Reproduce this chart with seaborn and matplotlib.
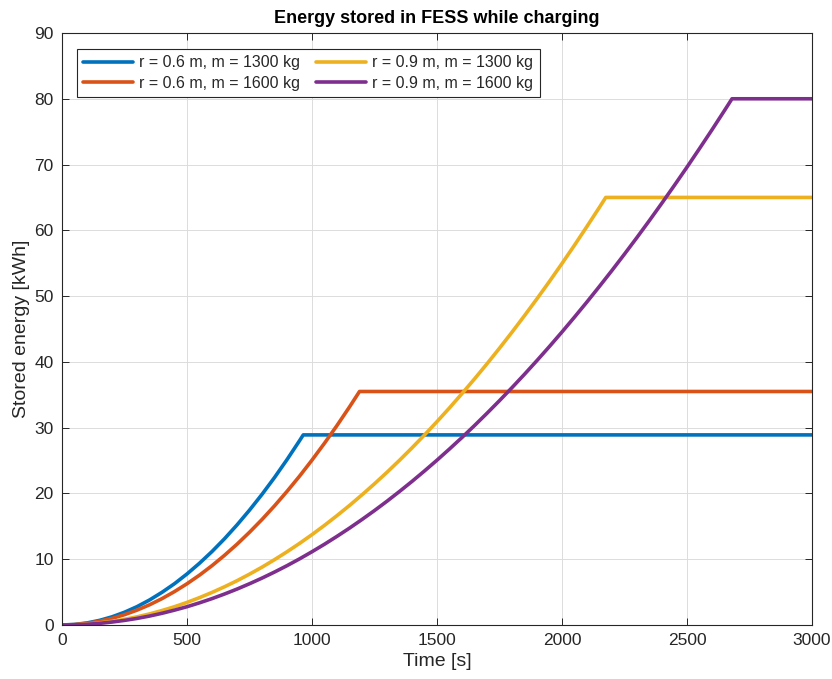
import numpy as np
import pandas as pd
import matplotlib
matplotlib.use("Agg")
import matplotlib.pyplot as plt
import seaborn as sns

# Charging time samples [s] and stored energy [kWh] for each flywheel configuration
t_a = [0, 50, 100, 150, 200, 250, 300, 350, 400, 450, 500, 550, 600, 650, 700,
       750, 800, 850, 900, 950, 965, 3000]
e_a = [0, 0.08, 0.31, 0.70, 1.24, 1.94, 2.79, 3.80, 4.97, 6.28, 7.76, 9.39,
       11.17, 13.11, 15.21, 17.46, 19.86, 22.42, 25.14, 28.01, 28.9, 28.9]

t_b = [0, 50, 100, 150, 200, 250, 300, 350, 400, 450, 500, 550, 600, 650, 700,
       750, 800, 850, 900, 950, 1000, 1050, 1100, 1150, 1190, 3000]
e_b = [0, 0.06, 0.25, 0.56, 1.00, 1.57, 2.26, 3.07, 4.01, 5.08, 6.27, 7.58,
       9.02, 10.59, 12.28, 14.10, 16.04, 18.11, 20.31, 22.62, 25.07, 27.64,
       30.33, 33.15, 35.5, 35.5]

t_c = [0, 50, 100, 150, 200, 250, 300, 350, 400, 450, 500, 550, 600, 650, 700,
       750, 800, 850, 900, 950, 1000, 1050, 1100, 1150, 1200, 1250, 1300, 1350,
       1400, 1450, 1500, 1550, 1600, 1650, 1700, 1750, 1800, 1850, 1900, 1950,
       2000, 2050, 2100, 2150, 2175, 3000]
e_c = [0, 0.03, 0.14, 0.31, 0.55, 0.86, 1.24, 1.68, 2.20, 2.78, 3.43, 4.16,
       4.95, 5.81, 6.73, 7.73, 8.79, 9.93, 11.13, 12.40, 13.74, 15.15, 16.63,
       18.17, 19.79, 21.47, 23.22, 25.04, 26.93, 28.89, 30.92, 33.01, 35.18,
       37.41, 39.71, 42.08, 44.52, 47.03, 49.60, 52.24, 54.96, 57.74, 60.60,
       63.51, 65.0, 65.0]

t_d = [0, 50, 100, 150, 200, 250, 300, 350, 400, 450, 500, 550, 600, 650, 700,
       750, 800, 850, 900, 950, 1000, 1050, 1100, 1150, 1200, 1250, 1300, 1350,
       1400, 1450, 1500, 1550, 1600, 1650, 1700, 1750, 1800, 1850, 1900, 1950,
       2000, 2050, 2100, 2150, 2200, 2250, 2300, 2350, 2400, 2450, 2500, 2550,
       2600, 2650, 2680, 3000]
e_d = [0, 0.03, 0.11, 0.25, 0.45, 0.70, 1.00, 1.36, 1.78, 2.26, 2.78, 3.37,
       4.01, 4.71, 5.46, 6.27, 7.13, 8.05, 9.02, 10.05, 11.14, 12.28, 13.48,
       14.73, 16.04, 17.40, 18.82, 20.30, 21.83, 23.42, 25.06, 26.76, 28.51,
       30.32, 32.19, 34.11, 36.09, 38.12, 40.21, 42.35, 44.55, 46.81, 49.12,
       51.49, 53.91, 56.39, 58.92, 61.51, 64.16, 66.86, 69.61, 72.43, 75.29,
       78.22, 80.0, 80.0]

labels = ["r = 0.6 m, m = 1300 kg", "r = 0.6 m, m = 1600 kg",
          "r = 0.9 m, m = 1300 kg", "r = 0.9 m, m = 1600 kg"]
colors = ["#0072BD", "#D95319", "#EDB120", "#7E2F8E"]

frames = []
for lab, t, e in zip(labels, [t_a, t_b, t_c, t_d], [e_a, e_b, e_c, e_d]):
    frames.append(pd.DataFrame({"time": t, "energy": e, "config": lab}))
df = pd.concat(frames, ignore_index=True)

sns.set_theme(style="whitegrid")
plt.rcParams["font.family"] = ["Liberation Sans", "DejaVu Sans"]

fig = plt.figure(figsize=(8.32, 6.79), dpi=100)
ax = fig.add_axes([62 / 832, 1 - 625 / 679, 750 / 832, 592 / 679])

sns.lineplot(data=df, x="time", y="energy", hue="config", hue_order=labels,
             palette=colors, linewidth=2.6, ax=ax, sort=False, estimator=None)

ax.set_xlim(0, 3000)
ax.set_ylim(0, 90)
ax.set_xticks(np.arange(0, 3001, 500))
ax.set_yticks(np.arange(0, 91, 10))
ax.set_facecolor("white")
ax.grid(True, color="#dcdcdc", linewidth=0.7)
for s in ax.spines.values():
    s.set_visible(True)
    s.set_color("#262626")
    s.set_linewidth(0.8)
ax.tick_params(direction="in", length=5, width=0.7, colors="#262626",
               labelsize=12.5, top=True, right=True, bottom=True, left=True,
               labelcolor="#262626", pad=6)
ax.set_xlabel("Time [s]", fontsize=14, color="#262626", labelpad=3)
ax.set_ylabel("Stored energy [kWh]", fontsize=14, color="#262626", labelpad=3)
ax.set_title("Energy stored in FESS while charging", fontsize=13,
             fontweight="bold", color="black", pad=7)

leg = ax.legend(loc="upper left", ncol=2, fontsize=11.5, frameon=True,
                fancybox=False, edgecolor="#262626", framealpha=1,
                handlelength=3.1, columnspacing=1.0, handletextpad=0.4,
                borderpad=0.4, labelspacing=0.35, borderaxespad=0,
                bbox_to_anchor=(0.02, 0.973))
leg.get_frame().set_linewidth(0.8)

fig.savefig("out.png", dpi=100, facecolor="white")
